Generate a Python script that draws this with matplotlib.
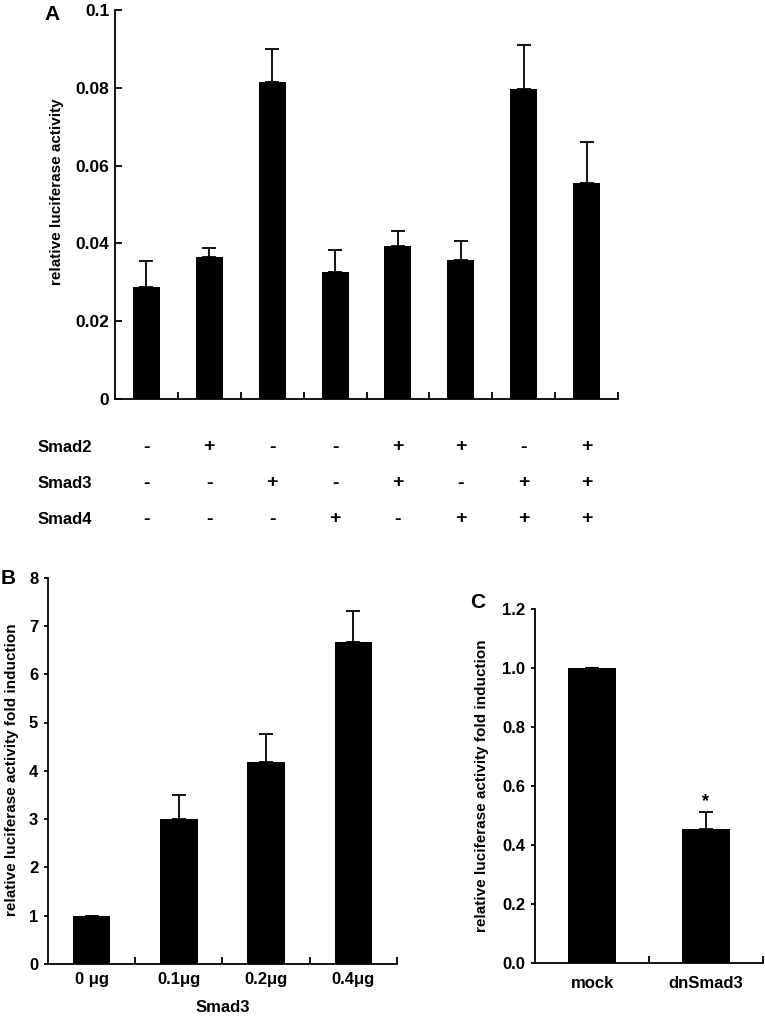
import numpy as np
import matplotlib
matplotlib.use("Agg")
import matplotlib.pyplot as plt
import matplotlib.transforms as mtransforms

plt.rcParams['font.family'] = ['Liberation Sans', 'DejaVu Sans']
plt.rcParams['font.weight'] = 'bold'
plt.rcParams['axes.labelweight'] = 'bold'

# panel A data
a_vals = [0.0289, 0.0366, 0.0816, 0.0326, 0.0394, 0.0358, 0.0797, 0.0556]
a_err = [0.0067, 0.0021, 0.0083, 0.0058, 0.0037, 0.0047, 0.0112, 0.0104]
a_ticks = [0, 0.02, 0.04, 0.06, 0.08, 0.1]
a_ticklabels = ['0', '0.02', '0.04', '0.06', '0.08', '0.1']
smad_rows = ['Smad2', 'Smad3', 'Smad4']
smad2 = ['-', '+', '-', '-', '+', '+', '-', '+']
smad3 = ['-', '-', '+', '-', '+', '-', '+', '+']
smad4 = ['-', '-', '-', '+', '-', '+', '+', '+']

# panel B data
b_cats = ['0 μg', '0.1μg', '0.2μg', '0.4μg']
b_vals = [1.0, 3.0, 4.19, 6.66]
b_err = [0.0, 0.49, 0.57, 0.65]

# panel C data
c_cats = ['mock', 'dnSmad3']
c_vals = [1.0, 0.453]
c_err = [0.0, 0.058]
c_ticks = [0, 0.2, 0.4, 0.6, 0.8, 1.0, 1.2]

W, H = 765, 1016
fig = plt.figure(figsize=(W / 100, H / 100), dpi=100)


def fx(px):
    return px / W


def fy(py):
    return 1 - py / H


def style_axes(ax, n, ydir, ylen):
    for s in ['top', 'right']:
        ax.spines[s].set_visible(False)
    for s in ['left', 'bottom']:
        ax.spines[s].set_linewidth(1.3)
    ax.set_xlim(-0.5, n - 0.5)
    ax.set_xticks(np.arange(n))
    ax.set_xticks(np.arange(n) + 0.5, minor=True)
    ax.tick_params(axis='x', which='major', length=0)
    ax.tick_params(axis='x', which='minor', direction='in', length=5, width=1.3)
    ax.tick_params(axis='y', direction=ydir, length=ylen, width=1.3, pad=4)


def draw_bars(ax, vals, err, width):
    x = np.arange(len(vals))
    ax.bar(x, vals, width=width, color='black', zorder=2)
    lower = np.zeros(len(vals))
    ax.errorbar(x, vals, yerr=[lower, err], fmt='none', ecolor='black',
                elinewidth=1.3, capsize=5, capthick=1.3, zorder=3)


# ---- A ----
axA = fig.add_axes([fx(115), fy(399), fx(503), (399 - 10) / H])
style_axes(axA, len(a_vals), 'in', 5)
draw_bars(axA, a_vals, a_err, 0.43)
axA.set_ylim(0, 0.1)
axA.set_yticks(a_ticks)
axA.set_yticklabels(a_ticklabels, fontsize=12.5)
axA.set_xticklabels([])
fig.text(fx(57), fy(192), 'relative luciferase activity', rotation=90,
         ha='center', va='center', fontsize=11)
fig.text(fx(52), fy(14), 'A', ha='center', va='center', fontsize=15)

trans = mtransforms.blended_transform_factory(axA.transData, fig.transFigure)
row_y = [447, 483, 519]
for name, signs, py in zip(smad_rows, [smad2, smad3, smad4], row_y):
    fig.text(fx(38), fy(py), name, ha='left', va='center', fontsize=12)
    for i, s in enumerate(signs):
        fig.text(i, fy(py), s, transform=trans, ha='center', va='center',
                 fontsize=14)

# ---- B ----
axB = fig.add_axes([fx(48), fy(964), fx(349), (964 - 577.6) / H])
style_axes(axB, len(b_vals), 'out', 3)
draw_bars(axB, b_vals, b_err, 0.43)
axB.set_ylim(0, 8)
axB.set_yticks(range(0, 9))
axB.tick_params(axis='y', labelsize=12)
axB.set_xticklabels(b_cats, fontsize=12)
axB.tick_params(axis='x', which='major', pad=6)
fig.text(fx(12), fy(770), 'relative luciferase activity fold induction',
         rotation=90, ha='center', va='center', fontsize=11)
fig.text(fx(223), fy(1007), 'Smad3', ha='center', va='center', fontsize=12)
fig.text(fx(8), fy(579), 'B', ha='center', va='center', fontsize=15)

# ---- C ----
axC = fig.add_axes([fx(535), fy(963.3), fx(228), (963.3 - 608.6) / H])
style_axes(axC, len(c_vals), 'out', 3)
draw_bars(axC, c_vals, c_err, 0.42)
axC.set_ylim(0, 1.2)
axC.set_yticks(c_ticks)
axC.set_yticklabels(['%.1f' % t for t in c_ticks], fontsize=12)
axC.set_xticklabels(c_cats, fontsize=12)
axC.tick_params(axis='x', which='major', pad=9)
axC.text(1, c_vals[1] + c_err[1] + 0.035, '*', ha='center', va='center',
         fontsize=13)
fig.text(fx(482), fy(786), 'relative luciferase activity fold induction',
         rotation=90, ha='center', va='center', fontsize=11)
fig.text(fx(478), fy(602), 'C', ha='center', va='center', fontsize=15)

fig.savefig('out.png', dpi=100)
